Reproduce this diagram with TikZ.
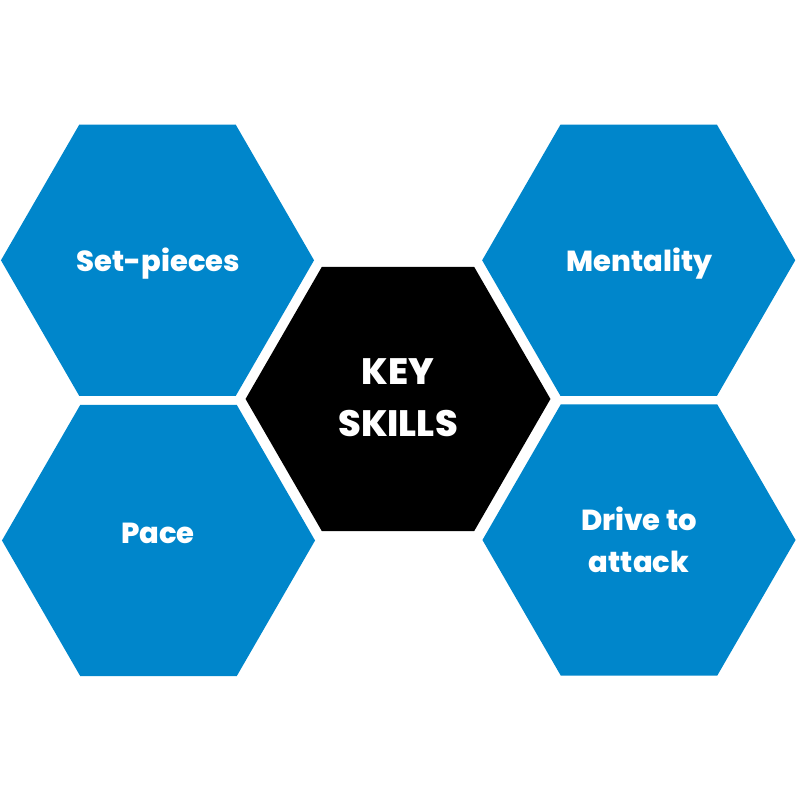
\documentclass[tikz,border=0pt]{standalone}
\usepackage{fontspec}
\setmainfont{Poppins}[BoldFont={Poppins ExtraBold}]
\usepackage{tikz}
\usetikzlibrary{positioning, shapes.geometric}
\definecolor{skillblue}{HTML}{0086CB}

\begin{document}
\begin{tikzpicture}[x=0.025cm,y=0.025cm]
            \edef\sizeskill{7.825cm}
            \edef\sizecentre{7.62cm}
            \tikzstyle{skillhex}=[regular polygon,regular polygon sides=6,inner sep=0pt,
                minimum size=\sizeskill,fill=skillblue]
            \tikzstyle{centrehex}=[skillhex,minimum size=\sizecentre,fill=black]
            \tikzstyle{skilltext}=[text=white,align=center,inner sep=0pt,
                font=\fontsize{20.6pt}{29.6pt}\selectfont\bfseries]
            \tikzstyle{centretext}=[skilltext,font=\fontsize{26.1pt}{37.2pt}\selectfont\bfseries]

            \useasboundingbox (0,0) rectangle (800,800);

            \node (setpieces) [skillhex] at (157.5,539.7) {};
            \node (mentality) [skillhex] at (638.7,539.7) {};
            \node (pace) [skillhex] at (158.5,259.5) {};
            \node (drive) [skillhex] at (639,260) {};
            \node (keyskills) [centrehex] at (398,401) {};

            \node (setpieceslabel) [skilltext] at (158.5,536) {Set-pieces};
            \node (mentalitylabel) [skilltext] at (639.5,536) {Mentality};
            \node (pacelabel) [skilltext] at (158,266.5) {Pace};
            \node (drivelabel) [skilltext] at (639,260) {Drive to\\attack};
            \node (keyskillslabel) [centretext] at (398,402.5) {KEY\\SKILLS};
        \end{tikzpicture}
\end{document}
